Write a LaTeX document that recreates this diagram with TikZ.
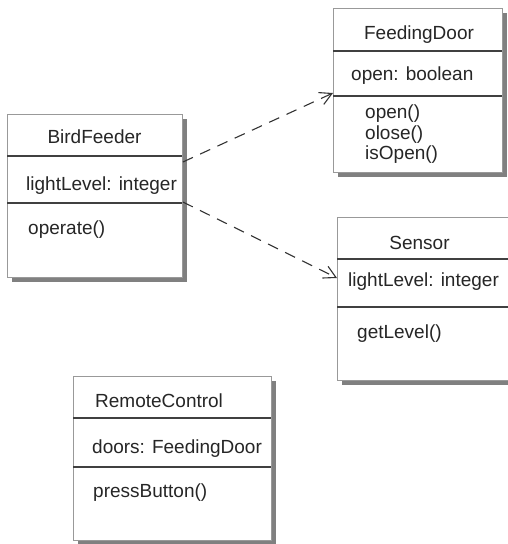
\documentclass[tikz,border=0pt]{standalone}
\usepackage{fontspec}
\setmainfont{Liberation Sans}
\usetikzlibrary{shadows,calc,arrows.meta}
\tikzset{
  cls/.style={draw=black!40, line width=0.9pt, fill=white, anchor=north west, inner sep=0pt,
    drop shadow={shadow xshift=5pt, shadow yshift=-5pt, fill=black!50, opacity=1}},
  divider/.style={draw=black!75, line width=1.3pt},
  txt/.style={anchor=base west, inner sep=0pt, text=black!85, font=\fontsize{19}{21}\selectfont},
  ttl/.style={anchor=base, inner sep=0pt, text=black!85, font=\fontsize{19}{21}\selectfont},
  dep/.style={draw=black!80, line width=1.1pt, dash pattern=on 11pt off 8pt, -{Straight Barb[length=12pt,width=13pt,line width=1.1pt]}}
}
\begin{document}
\begin{tikzpicture}[x=1pt,y=-1pt]
\useasboundingbox (0,0) rectangle (508,544);
% boxes
\node[cls, minimum width=175pt, minimum height=163pt] (bf) at (7,114) {};
\node[cls, minimum width=169pt, minimum height=164pt] (fd) at (333,8) {};
\node[cls, minimum width=180pt, minimum height=163pt] (se) at (337,217) {};
\node[cls, minimum width=198pt, minimum height=164pt] (rc) at (73,376) {};
% dividers
\draw[divider] (7,156) -- (182,156);
\draw[divider] (7,203) -- (182,203);
\draw[divider] (333,51) -- (502,51);
\draw[divider] (333,96) -- (502,96);
\draw[divider] (337,259) -- (517,259);
\draw[divider] (337,307) -- (517,307);
\draw[divider] (73,418) -- (271,418);
\draw[divider] (73,467) -- (271,467);
% BirdFeeder
\node[ttl] (bfn) at (94.5,143) {BirdFeeder};
\node[txt] (bfa) at (26,190) {lightLevel: integer};
\node[txt] (bfm) at (28,234) {operate()};
% FeedingDoor
\node[ttl] (fdn) at (419,39) {FeedingDoor};
\node[txt] (fda) at (351,80) {open: boolean};
\node[txt] (fdm1) at (365,118) {open()};
\node[txt] (fdm2) at (365,139) {olose()};
\node[txt] (fdm3) at (365,159) {isOpen()};
% Sensor
\node[ttl] (sen) at (419.5,249) {Sensor};
\node[txt] (sea) at (348,286) {lightLevel: integer};
\node[txt] (sem) at (357,338) {getLevel()};
% RemoteControl
\node[txt] (rcn) at (95,407) {RemoteControl};
\node[txt] (rca) at (92,453) {doors: FeedingDoor};
\node[txt] (rcm) at (93,497) {pressButton()};
% connectors
\coordinate (bfo1) at ($(bf.north east)+(0,48)$);
\coordinate (bfo2) at ($(bf.north east)+(0,88)$);
\coordinate (fdi) at ($(fd.north west)+(0,85)$);
\coordinate (sei) at ($(se.north west)+(0,61)$);
\draw[dep] (bfo1) -- (fdi);
\draw[dep] (bfo2) -- (sei);
\end{tikzpicture}
\end{document}
